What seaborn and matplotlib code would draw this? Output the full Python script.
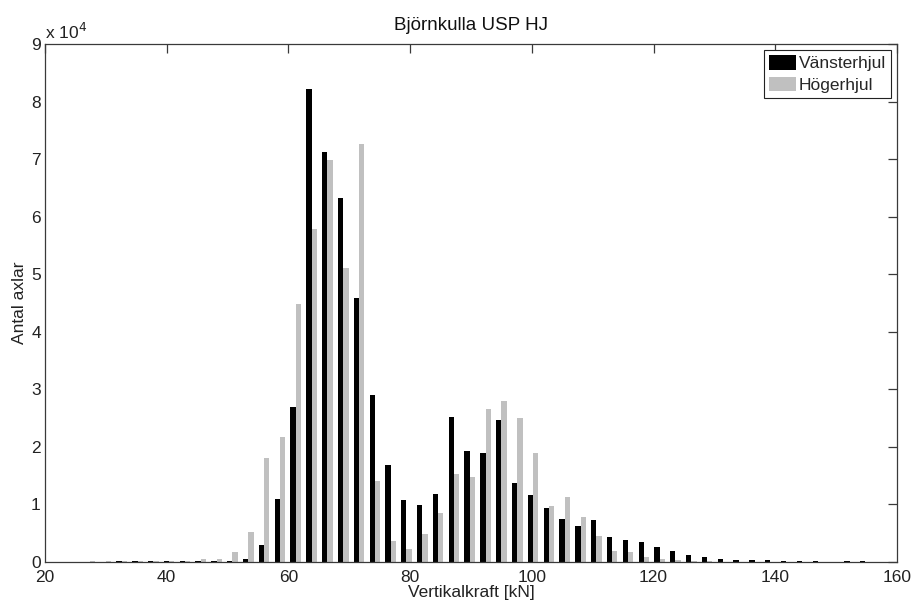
import matplotlib
matplotlib.use("Agg")
import matplotlib.pyplot as plt
import seaborn as sns
import pandas as pd

# Bin centres of the vertical wheel force histogram [kN]
kraft = [27.4, 30.0, 32.6, 35.2, 37.8, 40.4, 43.0, 45.6, 48.2, 50.8,
         53.4, 56.0, 58.6, 61.2, 63.8, 66.4, 69.0, 71.6, 74.2, 76.8,
         79.4, 82.0, 84.6, 87.2, 89.8, 92.4, 95.0, 97.6, 100.2, 102.8,
         105.4, 108.0, 110.6, 113.2, 115.8, 118.4, 121.0, 123.6, 126.2, 128.8,
         131.4, 134.0, 136.6, 139.2, 141.8, 144.4, 147.0, 149.6, 152.2, 154.8]

# Number of axles per bin, left wheel
vanster = [0, 0, 250, 250, 250, 250, 250, 250, 250, 250,
           500, 2900, 11000, 27000, 82200, 71300, 63300, 45800, 29100, 16900,
           10800, 9900, 11800, 25200, 19300, 19000, 24600, 13750, 11700, 9400,
           7400, 6200, 7300, 4300, 3900, 3400, 2600, 1900, 1200, 800,
           600, 400, 300, 300, 250, 250, 250, 0, 250, 250]

# Number of axles per bin, right wheel
hoger = [200, 200, 100, 100, 100, 100, 200, 500, 600, 1700,
         5200, 18100, 21800, 44900, 57800, 69800, 51100, 72600, 14100, 3600,
         2200, 4800, 8500, 15300, 14700, 26500, 27900, 25000, 19000, 9750,
         11300, 7800, 4600, 1900, 1700, 800, 500, 300, 200, 100,
         0, 0, 0, 0, 0, 0, 0, 0, 0, 0]

serier = ["Vänsterhjul", "Högerhjul"]
farger = {"Vänsterhjul": "#000000", "Högerhjul": "#c0c0c0"}

xticks = [20, 40, 60, 80, 100, 120, 140, 160]
yticks = [0, 10000, 20000, 30000, 40000, 50000, 60000, 70000, 80000, 90000]
yticklabels = ["0", "1", "2", "3", "4", "5", "6", "7", "8", "9"]

df = pd.DataFrame({
    "kraft": kraft + kraft,
    "antal": vanster + hoger,
    "hjul": [serier[0]] * len(kraft) + [serier[1]] * len(kraft),
})

sns.set_style("white")
plt.rcParams["font.family"] = ["Liberation Sans", "DejaVu Sans"]
plt.rcParams["font.size"] = 12.5

fig = plt.figure(figsize=(9.12, 6.01), dpi=100)
ax = fig.add_axes([45 / 912, 1 - 562 / 601, (897 - 45) / 912, (562 - 44) / 601])

sns.barplot(data=df, x="kraft", y="antal", hue="hjul", hue_order=serier,
            palette=farger, native_scale=True, width=0.67, linewidth=0,
            saturation=1, errorbar=None, ax=ax)

ax.set_xlim(20, 160)
ax.set_ylim(0, 90000)
ax.set_xticks(xticks)
ax.set_xticklabels([str(t) for t in xticks])
ax.set_yticks(yticks)
ax.set_yticklabels(yticklabels)

axcol = "#3a3a3a"
for s in ax.spines.values():
    s.set_visible(True)
    s.set_color(axcol)
    s.set_linewidth(0.9)
ax.tick_params(direction="in", length=6.5, width=0.9, color=axcol,
               top=True, right=True, labelsize=12.5, labelcolor="#222222")
ax.tick_params(axis="x", pad=6)
ax.tick_params(axis="y", pad=3)

ax.text(0.0, 1.004, r"x 10$^{4}$", transform=ax.transAxes, ha="left",
        va="bottom", fontsize=12.5, color="#222222")

ax.set_title("Björnkulla USP HJ", fontsize=13.5, pad=10, color="#111111")
ax.set_xlabel("Vertikalkraft [kN]", fontsize=12.5, labelpad=0, color="#222222")
ax.set_ylabel("Antal axlar", fontsize=12.5, labelpad=3, color="#222222")

handles, labels = ax.get_legend_handles_labels()
leg = ax.legend(handles, labels, loc="upper right", fontsize=12.5,
                frameon=True, fancybox=False, edgecolor="#222222",
                framealpha=1, handlelength=1.55, handleheight=0.9,
                handletextpad=0.15, borderpad=0.3, labelspacing=0.3,
                borderaxespad=0.35, title=None)
leg.get_frame().set_linewidth(0.8)

fig.savefig("out.png", dpi=100)
